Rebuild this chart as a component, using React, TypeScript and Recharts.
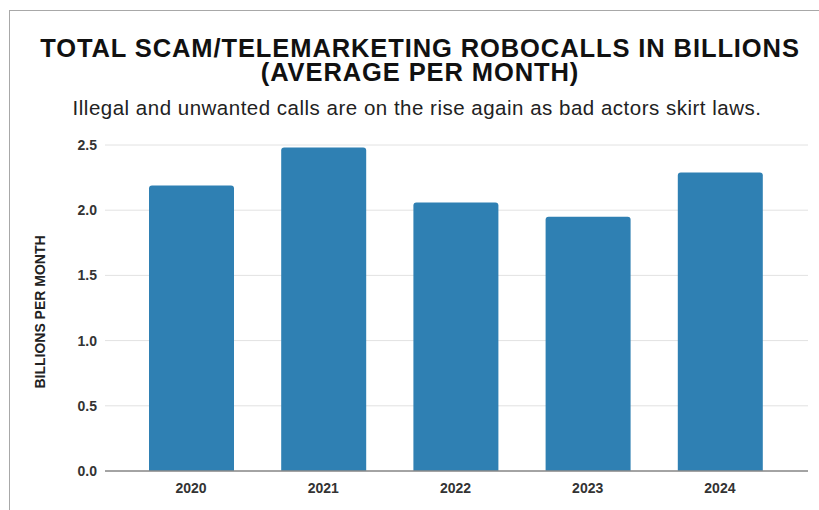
import React from "react";
import { BarChart, Bar, XAxis, YAxis, CartesianGrid } from "recharts";

const years = ["2020", "2021", "2022", "2023", "2024"];
const robocalls = [2.19, 2.48, 2.06, 1.95, 2.29];
const yTicks = [0, 0.5, 1.0, 1.5, 2.0, 2.5];

const data = years.map((y, i) => ({ year: y, value: robocalls[i] }));

const FONT = "'Liberation Sans', Arial, Helvetica, sans-serif";

export default function App() {
  return (
    <div style={{ position: "absolute", left: 0, top: 0, width: 819, height: 510, background: "#fff", overflow: "hidden", fontFamily: FONT }}>
      <div style={{ position: "absolute", left: 9, top: 10, width: 830, height: 520, borderLeft: "1px solid #a8a8a8", borderTop: "1px solid #a8a8a8" }} />
      <div style={{ position: "absolute", left: 0, width: 840, top: 36, textAlign: "center", fontWeight: "bold", fontSize: 25.5, lineHeight: "24px", letterSpacing: 0.9, color: "#111", whiteSpace: "nowrap" }}>
        TOTAL SCAM/TELEMARKETING ROBOCALLS IN BILLIONS
      </div>
      <div style={{ position: "absolute", left: 0, width: 840, top: 60, textAlign: "center", fontWeight: "bold", fontSize: 25.5, lineHeight: "24px", letterSpacing: 0.9, color: "#111", whiteSpace: "nowrap" }}>
        (AVERAGE PER MONTH)
      </div>
      <div style={{ position: "absolute", left: 0, width: 834, top: 96, textAlign: "center", fontSize: 20.5, letterSpacing: 0.5, color: "#222", whiteSpace: "nowrap" }}>
        Illegal and unwanted calls are on the rise again as bad actors skirt laws.
      </div>
      <div style={{ position: "absolute", left: 0, top: 0 }}>
        <BarChart width={819} height={510} data={data} margin={{ top: 145, right: 11, bottom: 9, left: 30 }}>
          <CartesianGrid vertical={false} stroke="#e2e2e2" />
          <XAxis
            dataKey="year"
            height={30}
            padding={{ left: 20, right: 22 }}
            axisLine={{ stroke: "#8a8a8a", strokeWidth: 1.5 }}
            tickLine={false}
            tick={{ fontSize: 14, fontWeight: "bold", fill: "#333", fontFamily: FONT }}
            tickMargin={6}
          />
          <YAxis
            width={75}
            domain={[0, 2.5]}
            ticks={yTicks}
            tickFormatter={(v: number) => v.toFixed(1)}
            axisLine={false}
            tickLine={false}
            tick={{ fontSize: 14, fontWeight: "bold", fill: "#333", fontFamily: FONT }}
            tickMargin={2}
            label={{ value: "BILLIONS PER MONTH", angle: -90, position: "insideLeft", offset: 10, dy: 4, style: { fontSize: 14, fontWeight: "bold", fill: "#222", fontFamily: FONT, textAnchor: "middle" } }}
          />
          <Bar dataKey="value" fill="#2f80b3" barSize={85} radius={[3, 3, 0, 0]} isAnimationActive={false} />
        </BarChart>
      </div>
    </div>
  );
}
